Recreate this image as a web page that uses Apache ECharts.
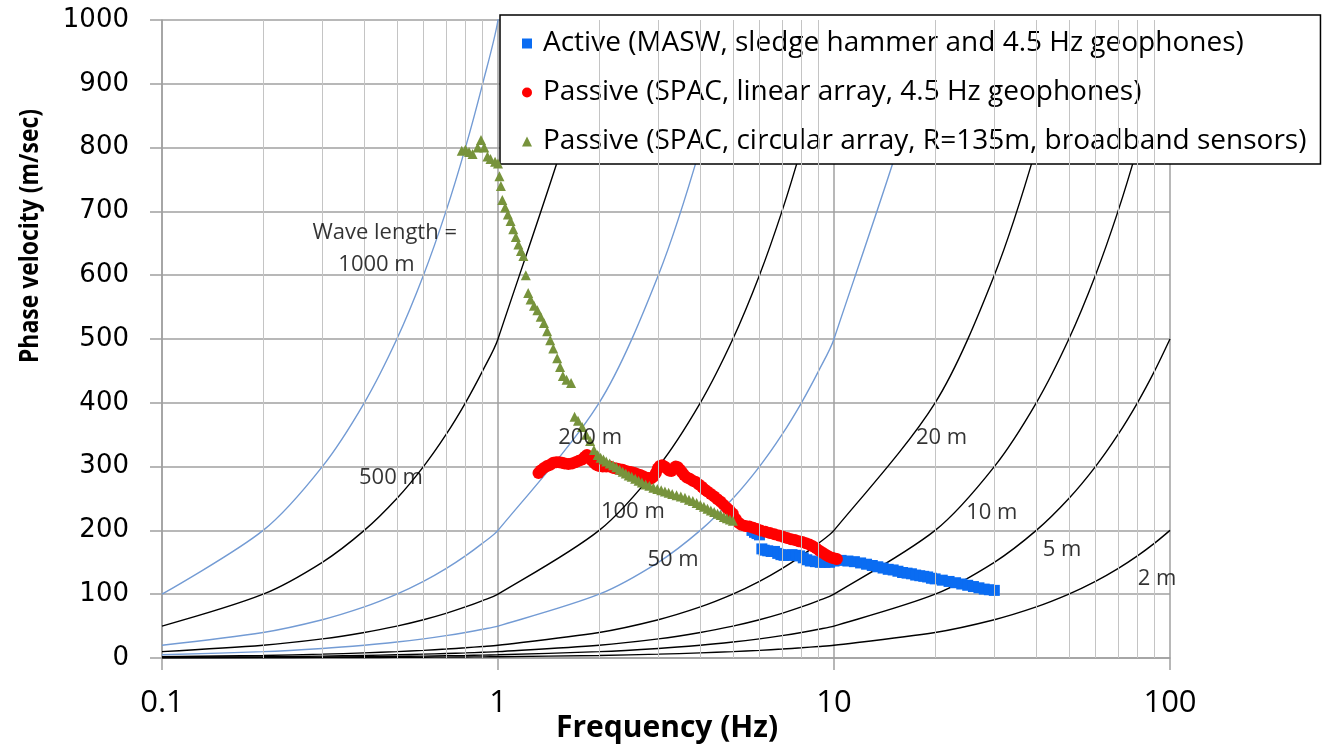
<!DOCTYPE html>
<html>
<head>
<meta charset="utf-8">
<script src="https://cdn.jsdelivr.net/npm/echarts@6/dist/echarts.min.js"></script>
<style>
  html, body { margin: 0; padding: 0; background: #fff; }
  #chart { width: 1323px; height: 745px; }
</style>
</head>
<body>
<div id="chart"></div>
<script>
// frequencies used for the wavelength guide curves (v = f * lambda)
var guideFreqs = [0.1, 0.2, 0.3, 0.4, 0.5, 0.6, 0.7, 0.8, 0.9, 1, 2, 3, 4, 5, 6, 7, 8, 9, 10,
  20, 30, 40, 50, 60, 70, 80, 90, 100];
var waveLengths = [1000, 500, 200, 100, 50, 20, 10, 5, 2];
var waveColors = ['#739bd4', '#000', '#739bd4', '#000', '#739bd4', '#000', '#000', '#000', '#000'];
var minorFreqs = [0.2, 0.3, 0.4, 0.5, 0.6, 0.7, 0.8, 0.9, 2, 3, 4, 5, 6, 7, 8, 9,
  20, 30, 40, 50, 60, 70, 80, 90];

var activeData = [
  [5.7, 200], [5.8, 197], [5.9, 195], [6.0, 193],
  [6.1, 171], [6.2, 169], [6.35, 168], [6.5, 167], [6.65, 167], [6.8, 164], [6.95, 162],
  [7.1, 161], [7.3, 161], [7.5, 162], [7.7, 161], [7.9, 160], [8.1, 157], [8.3, 154],
  [8.5, 152], [8.8, 151], [9.1, 150], [9.4, 150], [9.7, 150], [10.0, 152], [10.5, 153],
  [11, 152], [11.5, 151], [12, 149], [12.5, 147], [13, 145], [13.5, 143], [14, 141],
  [14.5, 139], [15, 138], [15.5, 136], [16, 134], [16.5, 133], [17, 132], [17.5, 130],
  [18, 129], [18.5, 128], [19, 127], [19.5, 125], [20, 124], [21, 122], [22, 120], [23, 118],
  [24, 116], [25, 114], [26, 112], [27, 110], [28, 108], [29, 107], [30, 106]
];
var linearData = [
  [1.32, 290], [1.34, 294], [1.37, 298], [1.40, 301], [1.43, 303], [1.46, 306], [1.49, 307],
  [1.52, 307], [1.55, 306], [1.58, 305], [1.62, 304], [1.66, 305], [1.70, 307], [1.74, 309],
  [1.78, 311], [1.81, 315], [1.84, 318], [1.87, 314], [1.90, 310], [1.93, 306], [1.96, 303],
  [2.0, 301], [2.05, 300], [2.1, 300], [2.15, 300], [2.2, 298], [2.25, 297], [2.3, 296],
  [2.35, 295], [2.4, 293], [2.45, 292], [2.5, 291], [2.55, 290], [2.6, 288], [2.65, 287],
  [2.7, 285], [2.75, 283], [2.8, 282], [2.85, 281], [2.9, 284], [2.95, 290], [2.99, 297],
  [3.03, 301], [3.08, 302], [3.13, 300], [3.18, 297], [3.23, 294], [3.28, 293], [3.33, 297],
  [3.38, 300], [3.43, 299], [3.48, 295], [3.53, 291], [3.58, 287], [3.65, 283], [3.72, 281],
  [3.8, 278], [3.88, 276], [3.96, 272], [4.05, 268], [4.12, 264], [4.2, 261], [4.3, 257],
  [4.4, 253], [4.5, 249], [4.6, 245], [4.7, 240], [4.8, 235], [4.9, 231], [5.0, 226],
  [5.1, 218], [5.2, 212], [5.3, 209], [5.45, 207], [5.6, 206], [5.75, 204], [5.9, 202],
  [6.05, 200], [6.25, 198], [6.45, 196], [6.65, 194], [6.85, 192], [7.05, 190], [7.25, 188],
  [7.45, 186], [7.65, 185], [7.85, 183], [8.05, 182], [8.25, 180], [8.45, 178], [8.65, 175],
  [8.85, 172], [9.05, 168], [9.25, 165], [9.45, 162], [9.65, 159], [9.85, 157], [10.05, 156],
  [10.2, 155]
];
var circularData = [
  [0.78, 795], [0.80, 797], [0.82, 793], [0.84, 790], [0.87, 800], [0.89, 812], [0.91, 800],
  [0.93, 786], [0.95, 782], [0.98, 778], [1.00, 775], [1.01, 755], [1.02, 740], [1.03, 718],
  [1.05, 706], [1.07, 695], [1.09, 685], [1.11, 672], [1.13, 660], [1.15, 648], [1.17, 638],
  [1.19, 630], [1.21, 600], [1.23, 572], [1.25, 562], [1.28, 552], [1.31, 545], [1.34, 535],
  [1.37, 525], [1.40, 512], [1.43, 498], [1.46, 485], [1.50, 470], [1.53, 456], [1.56, 442],
  [1.60, 436], [1.65, 431], [1.69, 378], [1.73, 372], [1.78, 362], [1.83, 350], [1.88, 340],
  [1.93, 326], [1.98, 318], [2.02, 314], [2.06, 311], [2.1, 308], [2.15, 305], [2.2, 302],
  [2.25, 299], [2.3, 295], [2.35, 292], [2.4, 289], [2.45, 286], [2.5, 284], [2.56, 281],
  [2.62, 278], [2.68, 275], [2.75, 272], [2.82, 270], [2.9, 267], [2.98, 265], [3.06, 263],
  [3.14, 261], [3.22, 259], [3.3, 257], [3.4, 255], [3.5, 253], [3.6, 251], [3.7, 248],
  [3.8, 246], [3.9, 243], [4.0, 240], [4.1, 237], [4.2, 234], [4.3, 231], [4.4, 229],
  [4.5, 226], [4.6, 224], [4.7, 221], [4.8, 219], [4.9, 217], [5.0, 215]
];
// curve labels: [freq, velocity, text]
var curveLabels = [
  [0.46, 666, 'Wave length ='], [0.435, 616, '1000 m'], [0.48, 282, '500 m'],
  [1.88, 345, '200 m'], [2.52, 229, '100 m'], [3.32, 154, '50 m'], [20.9, 345, '20 m'],
  [29.5, 227, '10 m'], [47.7, 169, '5 m'], [91.5, 125, '2 m']
];
var legendNames = [
  'Active (MASW, sledge hammer and 4.5 Hz geophones)',
  'Passive (SPAC, linear array, 4.5 Hz geophones)',
  'Passive (SPAC, circular array, R=135m, broadband sensors)'
];

var chart = echarts.init(document.getElementById('chart'));

var series = [];
waveLengths.forEach(function (wl, i) {
  series.push({
    name: wl + ' m',
    type: 'line',
    data: guideFreqs.map(function (f) { return [f, f * wl]; }),
    showSymbol: false,
    smooth: 0.3,
    silent: true,
    z: 1,
    lineStyle: { color: waveColors[i], width: 1.4 }
  });
});
series.push({
  name: 'minor',
  type: 'line',
  data: [],
  silent: true,
  z: 0,
  markLine: {
    silent: true,
    symbol: 'none',
    label: { show: false },
    lineStyle: { color: '#c4c4c4', type: 'solid', width: 1 },
    data: minorFreqs.map(function (f) { return { xAxis: f }; })
  }
});
series.push({
  name: legendNames[0],
  type: 'scatter',
  symbol: 'rect',
  symbolSize: 11,
  z: 3,
  itemStyle: { color: '#0a6cf2', opacity: 1 },
  data: activeData
});
series.push({
  name: legendNames[1],
  type: 'scatter',
  symbol: 'circle',
  symbolSize: 12,
  z: 4,
  itemStyle: { color: '#ff0000', opacity: 1 },
  data: linearData
});
series.push({
  name: legendNames[2],
  type: 'scatter',
  symbol: 'triangle',
  symbolSize: 10,
  z: 5,
  itemStyle: { color: '#77933c', opacity: 1 },
  data: circularData
});
series.push({
  name: 'labels',
  type: 'scatter',
  symbolSize: 0,
  silent: true,
  z: 6,
  data: curveLabels.map(function (d) { return { value: [d[0], d[1]], name: d[2] }; }),
  label: {
    show: true,
    position: 'inside',
    formatter: '{b}',
    color: '#000',
    fontSize: 22,
    fontFamily: 'Open Sans'
  }
});

var option = {
  animation: false,
  grid: { left: 162, right: 153, top: 20, bottom: 87, outerBoundsMode: 'none' },
  legend: {
    data: legendNames.map(function (n) { return { name: n, itemStyle: { opacity: 1 } }; }),
    orient: 'vertical',
    left: 500,
    top: 15,
    padding: [10, 14, 4, 22],
    itemGap: 12,
    itemWidth: 10,
    itemHeight: 10,
    backgroundColor: '#fff',
    borderColor: '#000',
    borderWidth: 1.5,
    borderRadius: 0,
    textStyle: { fontSize: 28, color: '#000', fontFamily: 'Open Sans', lineHeight: 37, padding: [0, 0, 0, 6] }
  },
  xAxis: {
    type: 'log',
    logBase: 10,
    min: 0.1,
    max: 100,
    axisLine: { show: true, lineStyle: { color: '#a0a0a0', width: 1.5 } },
    axisTick: { show: true, length: 12, lineStyle: { color: '#a0a0a0', width: 1.5 } },
    axisLabel: {
      fontSize: 31, color: '#000', margin: 30, fontFamily: 'Open Sans',
      formatter: function (v) { return String(+(+v).toPrecision(3)); }
    },
    splitLine: { show: true, lineStyle: { color: '#a0a0a0', width: 1.5 } }
  },
  yAxis: {
    type: 'value',
    min: 0,
    max: 1000,
    interval: 100,
    axisLine: { show: true, lineStyle: { color: '#a0a0a0', width: 1.5 } },
    axisTick: { show: true, length: 12, lineStyle: { color: '#a0a0a0', width: 1.5 } },
    axisLabel: {
      fontSize: 26, color: '#000', margin: 33, fontFamily: 'DejaVu Sans',
      formatter: function (v) { return String(v); }
    },
    splitLine: { show: true, lineStyle: { color: '#a0a0a0', width: 1.5 } }
  },
  graphic: [{
    type: 'text',
    x: 30,
    y: 236,
    rotation: Math.PI / 2,
    scaleX: 0.85,
    style: {
      text: 'Phase velocity (m/sec)',
      fontSize: 27,
      fontWeight: 'bold',
      fill: '#000',
      fontFamily: 'Open Sans',
      align: 'center',
      verticalAlign: 'middle'
    }
  }, {
    type: 'text',
    x: 667,
    y: 728,
    style: {
      text: 'Frequency (Hz)',
      fontSize: 30,
      fontWeight: 'bold',
      fill: '#000',
      fontFamily: 'Open Sans',
      align: 'center',
      verticalAlign: 'middle'
    }
  }],
  series: series
};
chart.setOption(option);
</script>
</body>
</html>
